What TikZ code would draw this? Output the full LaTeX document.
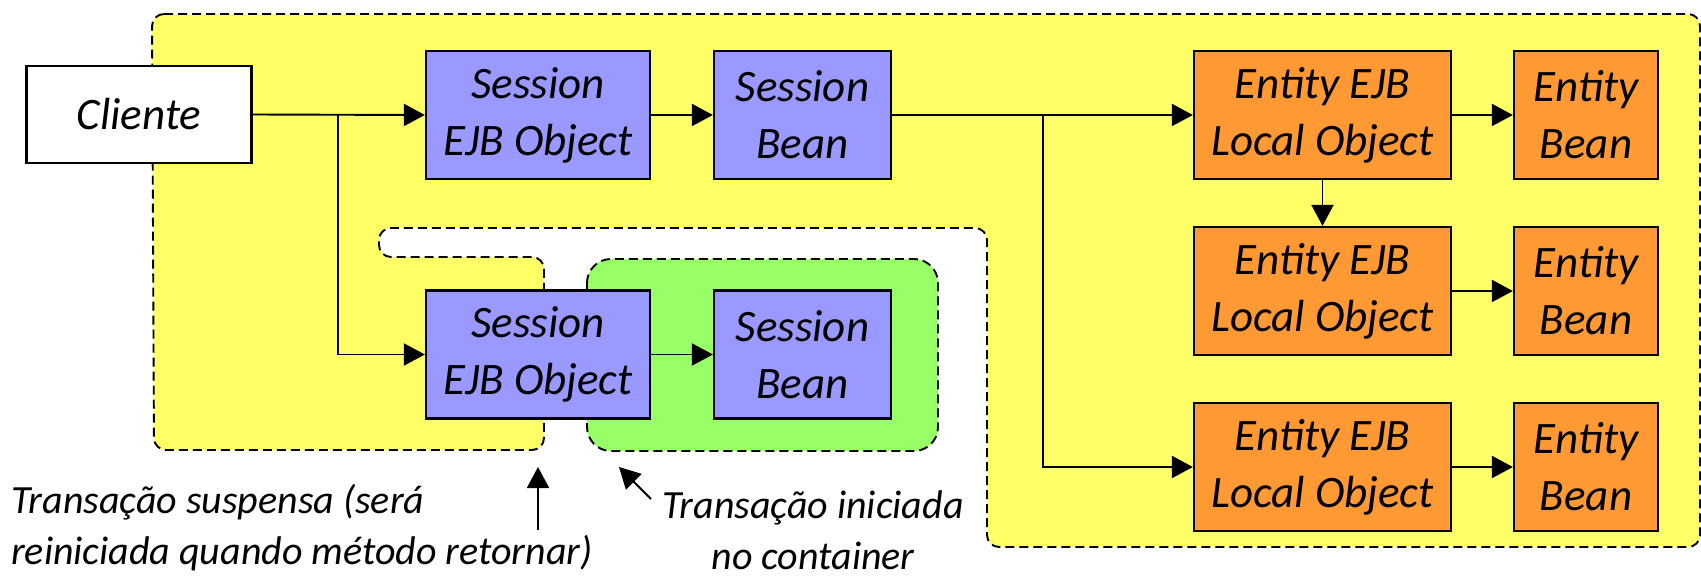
\documentclass[tikz,border=0pt]{standalone}
\usepackage{fontspec}
\setmainfont{Carlito}
\usetikzlibrary{arrows.meta}
\definecolor{zoneyellow}{HTML}{FFFF66}
\definecolor{zonegreen}{HTML}{99FF66}
\definecolor{sessblue}{HTML}{9999FF}
\definecolor{entorange}{HTML}{FF9933}
\begin{document}
\begin{tikzpicture}[x=1pt,y=-1pt,
  box/.style={draw=black, line width=2.2pt, align=center, inner sep=0pt,
    font=\fontsize{45}{57}\selectfont\itshape},
  sess/.style={box, fill=sessblue, minimum height=128pt},
  ent/.style={box, fill=entorange, minimum height=128pt},
  link/.style={line width=1.9pt, -{Triangle[length=21pt,width=22pt]}},
  zone/.style={draw=black, line width=1.9pt, dash pattern=on 9pt off 5pt},
  note/.style={inner sep=0pt, font=\fontsize{40}{51}\selectfont\itshape}
]
\useasboundingbox (0,0) rectangle (1701,576);

% container zone (yellow) with the notch around the new transaction
\path[zone, fill=zoneyellow, rounded corners=12pt]
  (152,14) -- (1700,14) -- (1700,547) -- (987,547) -- (987,228)
  -- (379,228) -- (379,257) -- (544,257) -- (544,450) -- (154,450) -- cycle;

% new transaction zone (green)
\path[zone, fill=zonegreen, rounded corners=24pt]
  (587,259) rectangle (938,451);

% nodes
\node[box, fill=white, minimum width=225pt, minimum height=97pt] (cli) at (139,114.5) {Cliente};
\node[sess, minimum width=224pt] (so1) at (538,115) {Session\\EJB Object};
\node[sess, minimum width=177pt] (sb1) at (802.5,115) {Session\\Bean};
\node[sess, minimum width=224pt] (so2) at (538,354.5) {Session\\EJB Object};
\node[sess, minimum width=177pt] (sb2) at (802.5,354.5) {Session\\Bean};

\node[ent, minimum width=257pt] (e1) at (1322.5,115) {Entity EJB\\Local Object};
\node[ent, minimum width=144pt] (b1) at (1586,115) {Entity\\Bean};
\node[ent, minimum width=257pt] (e2) at (1322.5,291) {Entity EJB\\Local Object};
\node[ent, minimum width=144pt] (b2) at (1586,291) {Entity\\Bean};
\node[ent, minimum width=257pt] (e3) at (1322.5,467) {Entity EJB\\Local Object};
\node[ent, minimum width=144pt] (b3) at (1586,467) {Entity\\Bean};

% branch points
\coordinate (j1) at (338,115);
\coordinate (j2) at (1043,115);

% connectors
\draw[link] (cli.east) -- (so1.west);
\draw[link] (j1) |- (so2.west);
\draw[link] (so1) -- (sb1);
\draw[link] (so2) -- (sb2);
\draw[link] (sb1.east) -- (e1.west);
\draw[link] (j2) |- (e3.west);
\draw[link] (e1) -- (e2);
\draw[link] (e1) -- (b1);
\draw[link] (e2) -- (b2);
\draw[link] (e3) -- (b3);

% annotations
\node[note, anchor=west, align=left] (n1) at (11,528)
  {Transação suspensa (será\\reiniciada quando método retornar)};
\node[note, align=center] (n2) at (813,530)
  {Transação iniciada\\no container};
\coordinate (a1s) at (538,530);
\coordinate (a1e) at (538,467);
\coordinate (a2s) at (651,499);
\coordinate (a2e) at (619,467);
\draw[link] (a1s) -- (a1e);
\draw[link] (a2s) -- (a2e);
\end{tikzpicture}
\end{document}
